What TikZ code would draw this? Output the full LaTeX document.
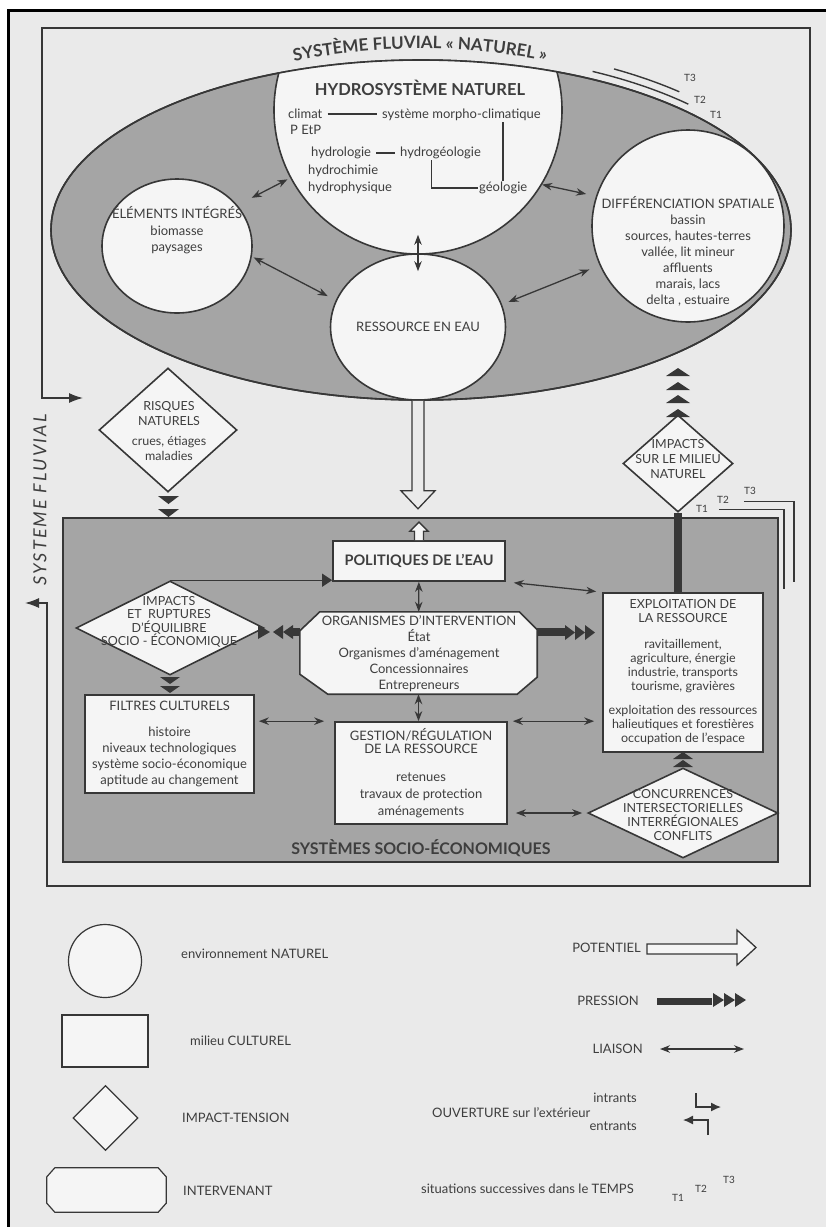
\documentclass[tikz,border=0pt]{standalone}
\usepackage{fontspec}
\setmainfont{Lato}
\usetikzlibrary{shapes.geometric,arrows.meta,calc,decorations.text}

\definecolor{paper}{RGB}{234,234,234}
\definecolor{boxfill}{RGB}{245,245,245}
\definecolor{ring}{RGB}{165,165,165}
\definecolor{ink}{RGB}{55,55,55}
\definecolor{txt}{RGB}{62,62,62}

\tikzset{
  nat/.style={ellipse,draw=ink,fill=boxfill,line width=1.6pt,inner sep=0pt,
    text=txt,font=\fontsize{13}{16}\selectfont},
  cult/.style={rectangle,draw=ink,fill=boxfill,line width=1.7pt,inner sep=0pt,
    text=txt,align=center,font=\fontsize{13}{16}\selectfont},
  tensdia/.style={diamond,draw=ink,fill=boxfill,line width=1.6pt,inner sep=0pt},
  interv/.style={rectangle,inner sep=0pt},
  octo/.style={draw=ink,fill=boxfill,line width=1.6pt},
  lbl/.style={text=txt,align=center,inner sep=1pt,font=\fontsize{13}{16}\selectfont},
  titre/.style={text=txt,font=\bfseries\fontsize{14.5}{16}\selectfont},
  tlbl/.style={text=txt,inner sep=0pt,font=\fontsize{10}{12}\selectfont},
  liaison/.style={draw=ink,line width=1.3pt,
    {Stealth[length=10pt,width=7.5pt]}-{Stealth[length=10pt,width=7.5pt]}},
  pression/.style={draw=ink,line width=8pt},
  fleche/.style={draw=ink,line width=1.3pt,fill=boxfill},
}

\begin{document}
\begin{tikzpicture}[x=1pt,y=-1pt]
\useasboundingbox (0,0) rectangle (826,1227);
%page
\fill[paper] (8,10) rectangle (826,1227);
\draw[black,line width=3pt] (8,1240) -- (8,10) -- (840,10);

%frame of the river system, open on the left
\coordinate (entree) at (83,398);
\coordinate (sortie) at (25,603);
\draw[ink,line width=1.3pt,{Latex[length=14pt,width=10pt]}-{Latex[length=14pt,width=10pt]}]
  (sortie) -- (47,603) -- (47,886) -- (810,886) -- (810,28) -- (42,28) -- (42,398) -- (entree);
\node[rotate=90,text=txt,font=\itshape\fontsize{18}{18}\selectfont] (fluvtxt) at (40,500)
  {\addfontfeature{LetterSpace=12}SYSTEME FLUVIAL};

%natural river system
\node[ellipse,draw=ink,fill=ring,line width=1.6pt,minimum width=740pt,minimum height=340pt,inner sep=0pt] (fluv) at (421,230) {};
\begin{scope}
\clip (421,230) ellipse [x radius=370,y radius=170];
\node[nat,minimum size=288pt] (hydro) at (418,110) {};
\end{scope}
\draw[ink,line width=1.6pt] (421,230) ellipse [x radius=370,y radius=170];
\path[decorate,decoration={text along path,text align=center,
  text={|\color{txt}\bfseries\fontsize{17}{17}\selectfont|SYSTÈME FLUVIAL « NATUREL »}}]
  (285,63) .. controls (375,44) and (465,44) .. (555,63);
%successive states T1 T2 T3
\draw[ink,line width=1.4pt] plot[domain=-63:-45,samples=20] ({421+378*cos(\x)},{230+178*sin(\x)});
\draw[ink,line width=1.4pt] plot[domain=-60:-48,samples=20] ({421+386*cos(\x)},{230+186*sin(\x)});
\node[tlbl] (t3a) at (690,78) {T3};
\node[tlbl] (t2a) at (700,100) {T2};
\node[tlbl] (t1a) at (716,115) {T1};

\node[nat,minimum width=150pt,minimum height=134pt] (elem) at (177,246) {};
\node[nat,minimum size=192pt] (diff) at (688,226) {};
\node[nat,minimum size=146pt] (ress) at (418,327) {RESSOURCE EN EAU};

%hydrosystem contents
\node[titre,font=\bfseries\fontsize{16.5}{18}\selectfont] (hydrotit) at (420,88) {HYDROSYSTÈME NATUREL};
\node[lbl,anchor=west] (clim) at (287,114) {climat};
\node[lbl,anchor=west] (etp) at (289,130) {P EtP};
\node[lbl,anchor=west] (morpho) at (381,115) {système morpho-climatique};
\node[lbl,anchor=west] (hydrol) at (310,153) {hydrologie};
\node[lbl,anchor=west] (hydrog) at (399,153) {hydrogéologie};
\node[lbl,anchor=west] (hydroch) at (307,171) {hydrochimie};
\node[lbl,anchor=west] (hydroph) at (307,188) {hydrophysique};
\node[lbl,anchor=west] (geol) at (478,188) {géologie};
\draw[ink,line width=1.7pt,shorten <=4pt,shorten >=4pt] (clim) -- (clim -| morpho.west);
\draw[ink,line width=1.7pt,shorten <=4pt,shorten >=4pt] (hydrol) -- (hydrol -| hydrog.west);
\draw[ink,line width=1.7pt] (morpho.south -| geol.north) -- (geol.north);
\draw[ink,line width=1.7pt] ([xshift=-9pt]hydrog.south) |- (geol.west);

\node[lbl] (elemtxt) at (177,230) {ÉLÉMENTS INTÉGRÉS\\[1pt]biomasse\\paysages};
\node[lbl] (difftxt) at (688,251) {DIFFÉRENCIATION SPATIALE\\bassin\\sources, hautes-terres\\vallée, lit mineur\\affluents\\marais, lacs\\delta , estuaire};

%links inside the natural system
\draw[liaison,shorten <=16pt,shorten >=3pt] (elem.34) -- (hydro.208);
\draw[liaison,shorten <=2pt,shorten >=9pt] (elem.-8) -- (ress.162);
\draw[liaison] ([yshift=20pt]hydro.south) -- ([yshift=-18pt]ress.north);
\draw[liaison,shorten >=10pt] (hydro.-31) -- (diff.162);
\draw[liaison,shorten <=11pt,shorten >=7pt] (diff.204) -- (ress.15);

%potential: resource towards water policies
\draw[fleche,fill=paper] ([xshift=-6pt]ress.south) -- ++(0,90) -- ++(-11,0) -- ++(17,18) -- ++(17,-18) -- ++(-11,0) -- ++(0,-90);

%natural hazards
\node[tensdia,minimum width=138pt,minimum height=124pt] (risq) at (168,430) {};
\node[lbl,font=\fontsize{12.5}{15.5}\selectfont] (risqtxt) at (169,431) {RISQUES\\NATURELS\\[4pt]crues, étiages\\maladies};
\foreach \y in {496,509} \fill[ink] (158,\y) -- (179,\y) -- (168.5,\y+8) -- cycle;

%impacts on the natural environment
\node[tensdia,minimum width=110pt,minimum height=97pt] (impm) at (678,463.5) {};
\node[lbl,font=\fontsize{12.5}{15}\selectfont] (impmtxt) at (678,459) {IMPACTS\\SUR LE MILIEU\\NATUREL};
\foreach \y in {368,382,395,409} \fill[ink] (678,\y) -- (690,\y+8) -- (666,\y+8) -- cycle;

%socio-economic systems
\node[rectangle,draw=ink,fill=ring,line width=1.7pt,minimum width=715pt,minimum height=344pt] (socio) at (420.5,690) {};
\draw[ink,line width=1.3pt] ($(socio.north east)+(-60,-8)$) -| ($(socio.north east)+(5,72)$);
\draw[ink,line width=1.3pt] ($(socio.north east)+(-35,-16)$) -| ($(socio.north east)+(15,65)$);
\node[tlbl] (t1b) at (702,509) {T1};
\node[tlbl] (t2b) at (723,500) {T2};
\node[tlbl] (t3b) at (750,491) {T3};
\node[titre,font=\bfseries\fontsize{16}{18}\selectfont] (sociotit) at (421,848) {SYSTÈMES SOCIO-ÉCONOMIQUES};

\node[cult,titre,minimum width=172pt,minimum height=40pt] (poli) at (419,561) {POLITIQUES DE L’EAU};
\draw[fleche] ([xshift=-4.5pt]poli.north) -- ++(0,-9) -- ++(-4.5,0) -- ++(9,-9) -- ++(9,9) -- ++(-4.5,0) -- ++(0,9);

%intervening bodies (octagon)
\node[interv,minimum width=237pt,minimum height=82pt] (organ) at (418.5,653) {};
\draw[octo] ($(organ.north west)+(20,0)$) -- ($(organ.north east)+(-18,0)$) -- ($(organ.north east)+(0,18)$)
  -- ($(organ.south east)+(0,-17)$) -- ($(organ.south east)+(-20,0)$) -- ($(organ.south west)+(28,0)$)
  -- ($(organ.south west)+(0,-20)$) -- ($(organ.north west)+(0,19)$) -- cycle;
\node[lbl] (organtxt) at (419,654) {ORGANISMES D’INTERVENTION\\État\\Organismes d’aménagement\\Concessionnaires\\Entrepreneurs};

\node[cult,minimum width=172pt,minimum height=102pt] (gest) at (421,773)
  {GESTION/RÉGULATION\\[-3pt]DE LA RESSOURCE\\[12pt]retenues\\[1pt]travaux de protection\\[1pt]aménagements};
\node[cult,minimum width=160pt,minimum height=159pt,font=\fontsize{12.5}{14}\selectfont] (expl) at (683,672.5)
  {EXPLOITATION DE\\LA RESSOURCE\\[12pt]ravitaillement,\\agriculture, énergie\\industrie, transports\\tourisme, gravières\\[10pt]exploitation des ressources\\halieutiques et forestières\\occupation de l’espace};
\node[cult,minimum width=169pt,minimum height=98pt] (filt) at (169.5,744)
  {FILTRES CULTURELS\\[10pt]histoire\\niveaux technologiques\\système socio-économique\\aptitude au changement};

\node[tensdia,minimum width=188pt,minimum height=94pt] (impr) at (170,628) {};
\node[lbl,font=\fontsize{12.5}{13.5}\selectfont] (imprtxt) at (169,622) {IMPACTS\\ET\ \ RUPTURES\\D’ÉQUILIBRE\\SOCIO - ÉCONOMIQUE};
\foreach \y in {677,686} \fill[ink] (160,\y) -- (180,\y) -- (170,\y+7) -- cycle;

\node[tensdia,minimum width=190pt,minimum height=90pt] (conc) at (683,813) {};
\node[lbl,font=\fontsize{12.5}{13.7}\selectfont] (conctxt) at (683,815) {CONCURRENCES\\INTERSECTORIELLES\\INTERRÉGIONALES\\CONFLITS};
\foreach \y in {752,760} \fill[ink] (683,\y) -- (693,\y+7) -- (673,\y+7) -- cycle;

%links
\draw[liaison] (poli) -- (organ);
\draw[liaison] (organ.south) -- (organ.south |- gest.north);
\draw[liaison,shorten <=8pt,shorten >=6pt] (poli.south east) -- (expl.north west);
\draw[liaison,shorten <=4pt,shorten >=10pt] (filt.east |- gest.north west) -- (gest.north west);
\draw[liaison,shorten <=5pt,shorten >=8pt] (gest.north east) -- (gest.north east -| expl.west);
\draw[liaison,shorten <=8pt,shorten >=5pt] (gest.east |- conc.west) -- (conc.west);
\draw[ink,line width=1.3pt,-{Triangle[length=10pt,width=13pt]}] (impr.north) -- (impr.north -| poli.west);

%pressures
\draw[pression] (impm.south) -- (impm.south |- expl.north);
\draw[pression] ([yshift=21pt]organ.east) -- ++(28,0);
\foreach \x in {565,575,585} \fill[ink] (\x,625) -- (\x+10,632.5) -- (\x,640) -- cycle;
\draw[pression] ([yshift=21pt]organ.west) -- ++(-8,0);
\foreach \x in {283,293} \fill[ink] (\x,625) -- (\x-10,632) -- (\x,639) -- cycle;
\fill[ink] (258,625) -- (270,632) -- (258,639) -- cycle;

%legend
\node[nat,minimum size=73pt,line width=1.2pt] (legnat) at (105,961) {};
\node[lbl,anchor=west] (legnattxt) at (180,954) {environnement NATUREL};
\node[cult,minimum width=86pt,minimum height=52pt,line width=1.2pt] (legcult) at (105,1041) {};
\node[lbl,anchor=west] (legculttxt) at (189,1041) {milieu CULTUREL};
\node[tensdia,minimum size=65pt,line width=1.2pt] (legtens) at (105.5,1118) {};
\node[lbl,anchor=west] (legtenstxt) at (181,1118) {IMPACT-TENSION};
\node[interv,minimum width=119pt,minimum height=44pt] (leginterv) at (106.5,1190) {};
\draw[octo,line width=1.2pt] ($(leginterv.north west)+(8,0)$) -- ($(leginterv.north east)+(-8,0)$) -- ($(leginterv.north east)+(0,9)$)
  -- ($(leginterv.south east)+(0,-9)$) -- ($(leginterv.south east)+(-8,0)$) -- ($(leginterv.south west)+(8,0)$)
  -- ($(leginterv.south west)+(0,-9)$) -- ($(leginterv.north west)+(0,9)$) -- cycle;
\node[lbl,anchor=west] (legintervtxt) at (182,1191) {INTERVENANT};

\node[lbl,anchor=east] (pot) at (642,948) {POTENTIEL};
\draw[fleche] ([xshift=5pt,yshift=4pt]pot.east) -- ++(90,0) -- ++(0,-14) -- ++(19,17.5) -- ++(-19,17.5) -- ++(0,-11) -- ++(-90,0) -- cycle;
\node[lbl,anchor=east] (pres) at (640,1001) {PRESSION};
\draw[pression,line width=7pt] ([xshift=17pt]pres.east) -- ++(55,0);
\foreach \x in {713,724,735} \fill[ink] (\x,993) -- (\x+11,1000) -- (\x,1007) -- cycle;
\node[lbl,anchor=east] (liai) at (644,1049) {LIAISON};
\draw[liaison] ([xshift=16pt]liai.east) -- ++(84,0);
\node[lbl,anchor=east] (intr) at (638,1098) {intrants};
\node[lbl,anchor=west] (ouv) at (431,1113) {OUVERTURE sur l’extérieur};
\node[lbl,anchor=east] (entr) at (638,1126) {entrants};
\draw[ink,line width=1.3pt,-{Latex[length=10pt,width=9pt]}] ([xshift=58pt,yshift=5pt]intr.east) |- ++(25,14);
\draw[ink,line width=1.3pt,-{Latex[length=10pt,width=9pt]}] ([xshift=70pt,yshift=-9pt]entr.east) |- ++(-25,-15);
\node[lbl,anchor=west] (temps) at (420,1189) {situations successives dans le TEMPS};
\node[tlbl] (t1c) at (678,1198) {T1};
\node[tlbl] (t2c) at (701,1189) {T2};
\node[tlbl] (t3c) at (729,1180) {T3};
\end{tikzpicture}
\end{document}
